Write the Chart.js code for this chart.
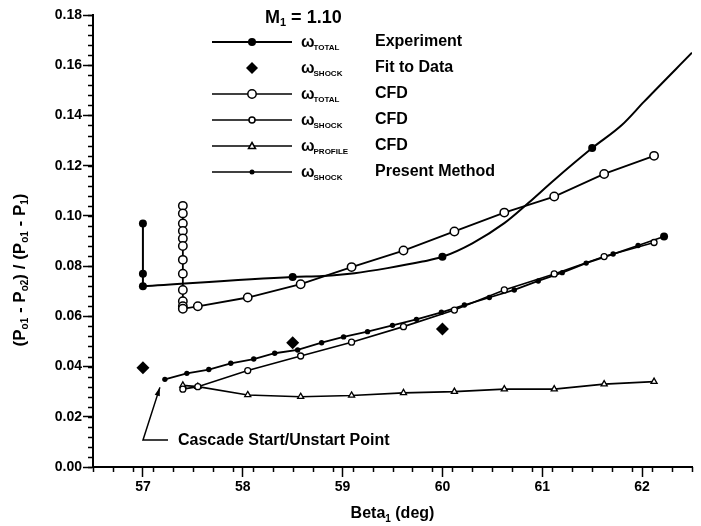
<!DOCTYPE html>
<html>
<head>
<meta charset="utf-8">
<script src="https://cdn.jsdelivr.net/npm/chart.js@4.4.0/dist/chart.umd.min.js"></script>
<style>
  html, body { margin: 0; padding: 0; background: #fff; }
  #wrap { width: 701px; height: 526px; }
</style>
</head>
<body>
<div id="wrap"><canvas id="chart" width="701" height="526"></canvas></div>
<script>
// axis ticks
const xTicks = [57, 58, 59, 60, 61, 62];
const yTicks = [0, 0.02, 0.04, 0.06, 0.08, 0.10, 0.12, 0.14, 0.16, 0.18];
const xMinorStep = 0.2;
const yMinorStep = 0.004;

// omega_TOTAL experiment (markers)
const expX = [57.0, 57.0, 57.0, 58.5, 60.0, 61.5];
const expY = [0.097, 0.077, 0.072, 0.0757, 0.0837, 0.127];
// curve drawn through the experiment data
const expCurveX = [57.0, 58.5, 58.8, 59.12, 59.45, 59.8, 60.0, 60.3, 60.62, 60.86, 61.12, 61.5, 61.8, 62.02, 62.5];
const expCurveY = [0.072, 0.0757, 0.0761, 0.0772, 0.0792, 0.0818, 0.0837, 0.0891, 0.0971, 0.1051, 0.1143, 0.127, 0.1363, 0.1455, 0.165];

// omega_SHOCK fit to data
const fitX = [57.0, 58.5, 60.0];
const fitY = [0.0395, 0.0495, 0.055];

// omega_TOTAL CFD
const totCfdX = [57.4, 57.4, 57.4, 57.4, 57.4, 57.4, 57.4, 57.4, 57.4, 57.4, 57.4, 57.4,
                 57.55, 58.05, 58.58, 59.09, 59.61, 60.12, 60.62, 61.12, 61.62, 62.12];
const totCfdY = [0.104, 0.101, 0.097, 0.094, 0.091, 0.088, 0.0825, 0.077, 0.0705, 0.066, 0.064, 0.063,
                 0.064, 0.0675, 0.0728, 0.0796, 0.0862, 0.0938, 0.1013, 0.1077, 0.1167, 0.1239];

// omega_SHOCK CFD
const shockCfdX = [57.4, 57.55, 58.05, 58.58, 59.09, 59.61, 60.12, 60.62, 61.12, 61.62, 62.12];
const shockCfdY = [0.031, 0.032, 0.0384, 0.0442, 0.0497, 0.0559, 0.0625, 0.0705, 0.0769, 0.0838, 0.0894];

// omega_PROFILE CFD
const profCfdX = [57.4, 57.55, 58.05, 58.58, 59.09, 59.61, 60.12, 60.62, 61.12, 61.62, 62.12];
const profCfdY = [0.0325, 0.032, 0.0287, 0.028, 0.0285, 0.0295, 0.030, 0.031, 0.031, 0.033, 0.034];

// omega_SHOCK present method
const presX = [57.22, 57.44, 57.66, 57.88, 58.11, 58.32, 58.55, 58.79, 59.01, 59.25, 59.5,
               59.74, 59.99, 60.22, 60.47, 60.72, 60.96, 61.2, 61.44, 61.71, 61.96, 62.22];
const presY = [0.0349, 0.0373, 0.0388, 0.0413, 0.043, 0.0453, 0.0466, 0.0495, 0.0518, 0.0539, 0.0564,
               0.0588, 0.0616, 0.0645, 0.0675, 0.0705, 0.0741, 0.0774, 0.0812, 0.0848, 0.0882, 0.0918];

const FONT = "'Liberation Sans', Arial, Helvetica, sans-serif";

function pts(xs, ys) { return xs.map((x, i) => ({ x: x, y: ys[i] })); }

// text runs with subscripts
function runsWidth(ctx, runs, size) {
  let w = 0;
  runs.forEach(r => {
    ctx.font = "bold " + (r.sub ? Math.round(size * 0.6) : size) + "px " + FONT;
    w += ctx.measureText(r.t).width;
  });
  return w;
}
function drawRuns(ctx, runs, x, y, size) {
  let cx = x;
  runs.forEach(r => {
    const s = r.sub ? Math.round(size * 0.6) : size;
    ctx.font = "bold " + s + "px " + FONT;
    ctx.fillText(r.t, cx, r.sub ? y + size * 0.3 : y);
    cx += ctx.measureText(r.t).width;
  });
}

const decorPlugin = {
  id: 'decor',
  afterDraw(chart) {
    const ctx = chart.ctx;
    const xs = chart.scales.x, ys = chart.scales.y;
    const area = chart.chartArea;
    ctx.save();
    ctx.fillStyle = '#000';
    ctx.strokeStyle = '#000';

    // minor ticks
    ctx.lineWidth = 1.5;
    ctx.beginPath();
    for (let v = xs.min; v <= xs.max + 1e-9; v += xMinorStep) {
      const px = Math.round(xs.getPixelForValue(v)) + 0.5;
      ctx.moveTo(px, area.bottom); ctx.lineTo(px, area.bottom + 5);
    }
    for (let v = ys.min; v <= ys.max + 1e-9; v += yMinorStep) {
      const py = Math.round(ys.getPixelForValue(v)) + 0.5;
      ctx.moveTo(area.left, py); ctx.lineTo(area.left - 5, py);
    }
    ctx.stroke();

    // axis titles
    ctx.textBaseline = 'middle';
    const xt = [{ t: 'Beta' }, { t: '1', sub: true }, { t: ' (deg)' }];
    const xw = runsWidth(ctx, xt, 16);
    drawRuns(ctx, xt, (area.left + area.right) / 2 - xw / 2, 514, 16);

    const yt = [{ t: '(P' }, { t: 'o1', sub: true }, { t: ' - P' }, { t: 'o2', sub: true },
                { t: ') / (P' }, { t: 'o1', sub: true }, { t: ' - P' }, { t: '1', sub: true }, { t: ')' }];
    const yw = runsWidth(ctx, yt, 17);
    ctx.save();
    ctx.translate(20, 270);
    ctx.rotate(-Math.PI / 2);
    drawRuns(ctx, yt, -yw / 2, 0, 17);
    ctx.restore();

    // legend
    const mt = [{ t: 'M' }, { t: '1', sub: true }, { t: ' = 1.10' }];
    drawRuns(ctx, mt, 265, 18, 18);

    const lx0 = 212, lx1 = 292, mx = 252, wx = 301, dx = 375;
    const rows = [
      { y: 42, sub: 'TOTAL', desc: 'Experiment', line: 2, marker: 'dot' },
      { y: 68, sub: 'SHOCK', desc: 'Fit to Data', line: 0, marker: 'diamond' },
      { y: 94, sub: 'TOTAL', desc: 'CFD', line: 1.5, marker: 'ocircle' },
      { y: 120, sub: 'SHOCK', desc: 'CFD', line: 1.5, marker: 'osmall' },
      { y: 146, sub: 'PROFILE', desc: 'CFD', line: 1.5, marker: 'otri' },
      { y: 172, sub: 'SHOCK', desc: 'Present Method', line: 1.5, marker: 'sdot' }
    ];
    rows.forEach(r => {
      if (r.line) {
        ctx.lineWidth = r.line;
        ctx.beginPath(); ctx.moveTo(lx0, r.y); ctx.lineTo(lx1, r.y); ctx.stroke();
      }
      ctx.lineWidth = 1.5;
      ctx.beginPath();
      if (r.marker === 'dot') {
        ctx.arc(mx, r.y, 4, 0, Math.PI * 2); ctx.fill();
      } else if (r.marker === 'diamond') {
        ctx.moveTo(mx, r.y - 6); ctx.lineTo(mx + 6, r.y); ctx.lineTo(mx, r.y + 6); ctx.lineTo(mx - 6, r.y);
        ctx.closePath(); ctx.fill();
      } else if (r.marker === 'ocircle') {
        ctx.arc(mx, r.y, 4.2, 0, Math.PI * 2); ctx.fillStyle = '#fff'; ctx.fill(); ctx.stroke(); ctx.fillStyle = '#000';
      } else if (r.marker === 'osmall') {
        ctx.arc(mx, r.y, 3, 0, Math.PI * 2); ctx.fillStyle = '#fff'; ctx.fill(); ctx.stroke(); ctx.fillStyle = '#000';
      } else if (r.marker === 'otri') {
        ctx.moveTo(mx, r.y - 3.5); ctx.lineTo(mx + 3.5, r.y + 2.5); ctx.lineTo(mx - 3.5, r.y + 2.5); ctx.closePath();
        ctx.fillStyle = '#fff'; ctx.fill(); ctx.stroke(); ctx.fillStyle = '#000';
      } else if (r.marker === 'sdot') {
        ctx.arc(mx, r.y, 2.5, 0, Math.PI * 2); ctx.fill();
      }
      ctx.font = "bold 16px " + FONT;
      ctx.fillText('\u03c9', wx, r.y + 1);
      const ww = ctx.measureText('\u03c9').width;
      ctx.font = "bold 8px " + FONT;
      ctx.fillText(r.sub, wx + ww - 1, r.y + 6);
      ctx.font = "bold 16px " + FONT;
      ctx.fillText(r.desc, dx, r.y);
    });

    // annotation
    const sx = xs.getPixelForValue(presX[0]);
    const sy = ys.getPixelForValue(presY[0]);
    const tipX = sx - 5, tipY = sy + 8;
    const elbowX = area.left + 50, elbowY = 440;
    ctx.lineWidth = 1.5;
    ctx.beginPath();
    ctx.moveTo(elbowX + 25, elbowY); ctx.lineTo(elbowX, elbowY); ctx.lineTo(tipX, tipY);
    ctx.stroke();
    const ang = Math.atan2(tipY - elbowY, tipX - elbowX);
    ctx.beginPath();
    ctx.moveTo(tipX, tipY);
    ctx.lineTo(tipX - 9 * Math.cos(ang - 0.3), tipY - 9 * Math.sin(ang - 0.3));
    ctx.lineTo(tipX - 9 * Math.cos(ang + 0.3), tipY - 9 * Math.sin(ang + 0.3));
    ctx.closePath(); ctx.fill();
    ctx.font = "bold 16px " + FONT;
    ctx.fillText('Cascade Start/Unstart Point', elbowX + 35, elbowY + 1);
    ctx.restore();
  }
};

new Chart(document.getElementById('chart'), {
  type: 'scatter',
  data: {
    datasets: [
      {
        label: 'omega_TOTAL Experiment',
        data: pts(expX, expY),
        showLine: true,
        borderColor: '#000', borderWidth: 2,
        segment: { borderColor: c => c.p0DataIndex < 2 ? '#000' : 'rgba(0,0,0,0)' },
        pointStyle: 'circle', pointRadius: 4, pointBackgroundColor: '#000', pointBorderWidth: 0
      },
      {
        label: 'omega_TOTAL Experiment curve',
        data: pts(expCurveX, expCurveY),
        showLine: true, cubicInterpolationMode: 'monotone',
        borderColor: '#000', borderWidth: 2, pointRadius: 0
      },
      {
        label: 'omega_SHOCK Fit to Data',
        data: pts(fitX, fitY),
        showLine: false,
        pointStyle: 'rectRot', pointRadius: 6.5, pointBackgroundColor: '#000', pointBorderWidth: 0
      },
      {
        label: 'omega_TOTAL CFD',
        data: pts(totCfdX, totCfdY),
        showLine: true, borderColor: '#000', borderWidth: 1.8,
        pointStyle: 'circle', pointRadius: 4.2, pointBackgroundColor: '#fff',
        pointBorderColor: '#000', pointBorderWidth: 1.5
      },
      {
        label: 'omega_SHOCK CFD',
        data: pts(shockCfdX, shockCfdY),
        showLine: true, borderColor: '#000', borderWidth: 1.6,
        pointStyle: 'circle', pointRadius: 3, pointBackgroundColor: '#fff',
        pointBorderColor: '#000', pointBorderWidth: 1.3
      },
      {
        label: 'omega_PROFILE CFD',
        data: pts(profCfdX, profCfdY),
        showLine: true, borderColor: '#000', borderWidth: 1.6,
        pointStyle: 'triangle', pointRadius: 3.5, pointBackgroundColor: '#fff',
        pointBorderColor: '#000', pointBorderWidth: 1.3
      },
      {
        label: 'omega_SHOCK Present Method',
        data: pts(presX, presY),
        showLine: true, borderColor: '#000', borderWidth: 1.8,
        pointStyle: 'circle',
        pointRadius: presX.map((v, i) => i === presX.length - 1 ? 4 : 2.7),
        pointBackgroundColor: '#000', pointBorderWidth: 0
      }
    ]
  },
  options: {
    responsive: false,
    animation: false,
    devicePixelRatio: 1,
    layout: { padding: { left: 0, top: 15, right: 9, bottom: 0 } },
    plugins: { legend: { display: false }, tooltip: { enabled: false } },
    scales: {
      x: {
        type: 'linear', min: 56.5, max: 62.5,
        afterBuildTicks: s => { s.ticks = xTicks.map(v => ({ value: v })); },
        afterFit: s => { s.height = 59; },
        border: { display: true, color: '#000', width: 2 },
        grid: { drawOnChartArea: false, drawTicks: true, tickLength: 10, tickColor: '#000', tickWidth: 1.5 },
        ticks: { color: '#000', padding: 2, font: { family: FONT, size: 14, weight: 'bold' }, callback: v => String(v) }
      },
      y: {
        type: 'linear', min: 0, max: 0.18,
        afterBuildTicks: s => { s.ticks = yTicks.map(v => ({ value: v })); },
        afterFit: s => { s.width = 93; },
        border: { display: true, color: '#000', width: 2 },
        grid: { drawOnChartArea: false, drawTicks: true, tickLength: 10, tickColor: '#000', tickWidth: 1.5 },
        ticks: { color: '#000', padding: 1, font: { family: FONT, size: 14, weight: 'bold' }, callback: v => v.toFixed(2) }
      }
    }
  },
  plugins: [decorPlugin]
});
</script>
</body>
</html>
